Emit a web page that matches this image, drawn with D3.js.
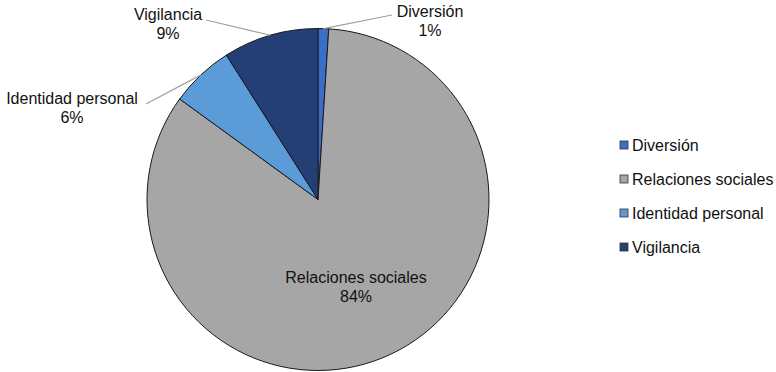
<!DOCTYPE html>
<html>
<head>
<meta charset="utf-8">
<script src="https://cdn.jsdelivr.net/npm/d3@7/dist/d3.min.js"></script>
<style>
  html, body { margin: 0; padding: 0; background: #fff; }
  svg { display: block; }
  text { font-family: "Liberation Sans", Arial, sans-serif; font-size: 16px; fill: #111; }
</style>
</head>
<body>
<svg id="chart" width="776" height="372"></svg>
<script>
// Categories and shares (percent), in drawing order clockwise from 12 o'clock
const categories = ["Diversión", "Relaciones sociales", "Identidad personal", "Vigilancia"];
const values = [1, 84, 6, 9];
const colors = ["#3a6ec8", "#a6a6a6", "#5b9bd8", "#233f76"];

// Label placement (text anchor point, leader line end) per slice
const labelPos = [
  { x: 430, y: 17, lx: 392, ly: 15, leader: true },
  { x: 356, y: 283, leader: false },
  { x: 72, y: 104, lx: 146, ly: 104, leader: true },
  { x: 168, y: 20, lx: 206, ly: 20, leader: true }
];

const svg = d3.select("#chart");
const cx = 318, cy = 199.5, r = 171;

const data = categories.map((c, i) => ({ name: c, value: values[i], color: colors[i] }));
const pie = d3.pie().value(d => d.value).sort(null);
const arcs = pie(data);
const arc = d3.arc().innerRadius(0).outerRadius(r);

const g = svg.append("g").attr("transform", `translate(${cx},${cy})`);

g.selectAll("path.slice")
  .data(arcs)
  .enter().append("path")
  .attr("class", "slice")
  .attr("d", arc)
  .attr("fill", d => d.data.color)
  .attr("stroke", "#1a1a1a")
  .attr("stroke-width", 1)
  .attr("stroke-linejoin", "round");

// Leader lines from slice edge midpoint to label, then the labels
const edgeArc = d3.arc().innerRadius(r).outerRadius(r);
arcs.forEach((a, i) => {
  const p = labelPos[i];
  if (p.leader) {
    const [ex, ey] = edgeArc.centroid(a);
    svg.append("line")
      .attr("x1", cx + ex).attr("y1", cy + ey)
      .attr("x2", p.lx).attr("y2", p.ly)
      .attr("stroke", "#a0a0a0")
      .attr("stroke-width", 1.2);
  }
  const t = svg.append("text")
    .attr("text-anchor", "middle")
    .attr("x", p.x).attr("y", p.y);
  t.append("tspan").attr("x", p.x).text(a.data.name);
  t.append("tspan").attr("x", p.x).attr("dy", 19).text(Math.round(a.data.value) + "%");
});

// Legend
const legend = svg.append("g").attr("transform", "translate(620,141)");
data.forEach((d, i) => {
  const row = legend.append("g").attr("transform", `translate(0,${i * 34})`);
  row.append("rect")
    .attr("x", 0).attr("y", 0)
    .attr("width", 8).attr("height", 8)
    .attr("fill", d.color)
    .attr("stroke", "#333")
    .attr("stroke-width", 0.8);
  row.append("text")
    .attr("x", 12).attr("y", 9.5)
    .text(d.name);
});
</script>
</body>
</html>
